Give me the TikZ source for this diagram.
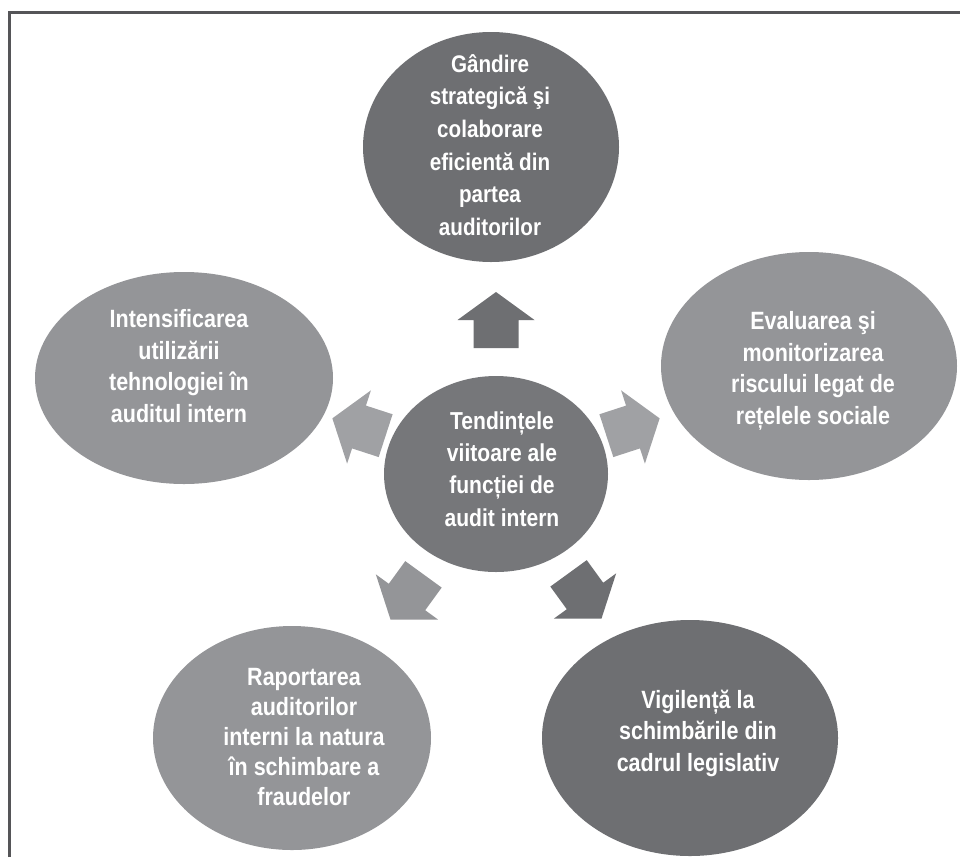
\documentclass[tikz,border=0pt]{standalone}
\usepackage{fontspec}
\setmainfont{Liberation Sans}
\newfontfamily\bubfont{Liberation Sans}[FakeStretch=0.86]
\usetikzlibrary{shapes.geometric}
\definecolor{bubdark}{RGB}{110,111,114}
\definecolor{bubmid}{RGB}{118,119,122}
\definecolor{bublight}{RGB}{148,149,152}
\definecolor{arrlight}{RGB}{160,161,164}
\definecolor{frameline}{RGB}{85,85,88}

\begin{document}
\begin{tikzpicture}[x=1pt,y=-1pt,
	bubble/.style={ellipse,inner sep=0pt,draw=none},
	txt/.style={text=white,font=\bubfont\bfseries\fontsize{25}{31.5}\selectfont,align=center,inner sep=0pt},
	pics/fatarrow/.style={code={
		\path[pic actions] (-28,-22.5) -- (0,-22.5) -- (0,-38.5) -- (28,0) -- (0,38.5) -- (0,22.5) -- (-28,22.5) -- cycle;}}]
	\useasboundingbox (0,0) rectangle (960,857);
	\fill[white] (0,0) rectangle (960,857);
	\draw[frameline,line width=3pt] (9,857)--(9,12)--(960,12);
	% ellipses
	\node[bubble,fill=bubdark,minimum width=256,minimum height=230] (strat) at (491,147) {};
	\node[bubble,fill=bubmid,minimum width=224,minimum height=196] (centru) at (496,474) {};
	\node[bubble,fill=bublight,minimum width=298,minimum height=212] (tehno) at (184,378) {};
	\node[bubble,fill=bublight,minimum width=296,minimum height=228] (risc) at (809,366) {};
	\node[bubble,fill=bublight,minimum width=278,minimum height=224] (frauda) at (292,738) {};
	\node[bubble,fill=bubdark,minimum width=296,minimum height=236] (legis) at (690,738) {};
	% texts
	\node[txt,font=\bubfont\bfseries\fontsize{24}{32.6}\selectfont] (strat-t) at (490,145) {Gândire\\strategică şi\\colaborare\\eficientă din\\partea\\auditorilor};
	\node[txt,font=\bubfont\bfseries\fontsize{24.5}{32.3}\selectfont] (centru-t) at (502,469) {Tendințele\\viitoare ale\\funcției de\\audit intern};
	\node[txt] (tehno-t) at (179,366) {Intensificarea\\utilizării\\tehnologiei în\\auditul intern};
	\node[txt] (risc-t) at (813,371) {Evaluarea şi\\monitorizarea\\riscului legat de\\rețelele sociale};
	\node[txt,font=\bubfont\bfseries\fontsize{25}{30}\selectfont] (frauda-t) at (304,737) {Raportarea\\auditorilor\\interni la natura\\în schimbare a\\fraudelor};
	\node[txt] (legis-t) at (698,733) {Vigilență la\\schimbările din\\cadrul legislativ};
	% arrows
	\pic[fill=bubdark,rotate=90] (sus) at (496,320) {fatarrow};
	\pic[fill=arrlight,rotate=18] (dreapta) at (633,427) {fatarrow};
	\pic[fill=arrlight,rotate=162] (stanga) at (359,427) {fatarrow};
	\pic[fill=bublight,rotate=-126] (josst) at (407,597) {fatarrow};
	\pic[fill=bubdark,rotate=-54] (josdr) at (585,596) {fatarrow};
\end{tikzpicture}
\end{document}
